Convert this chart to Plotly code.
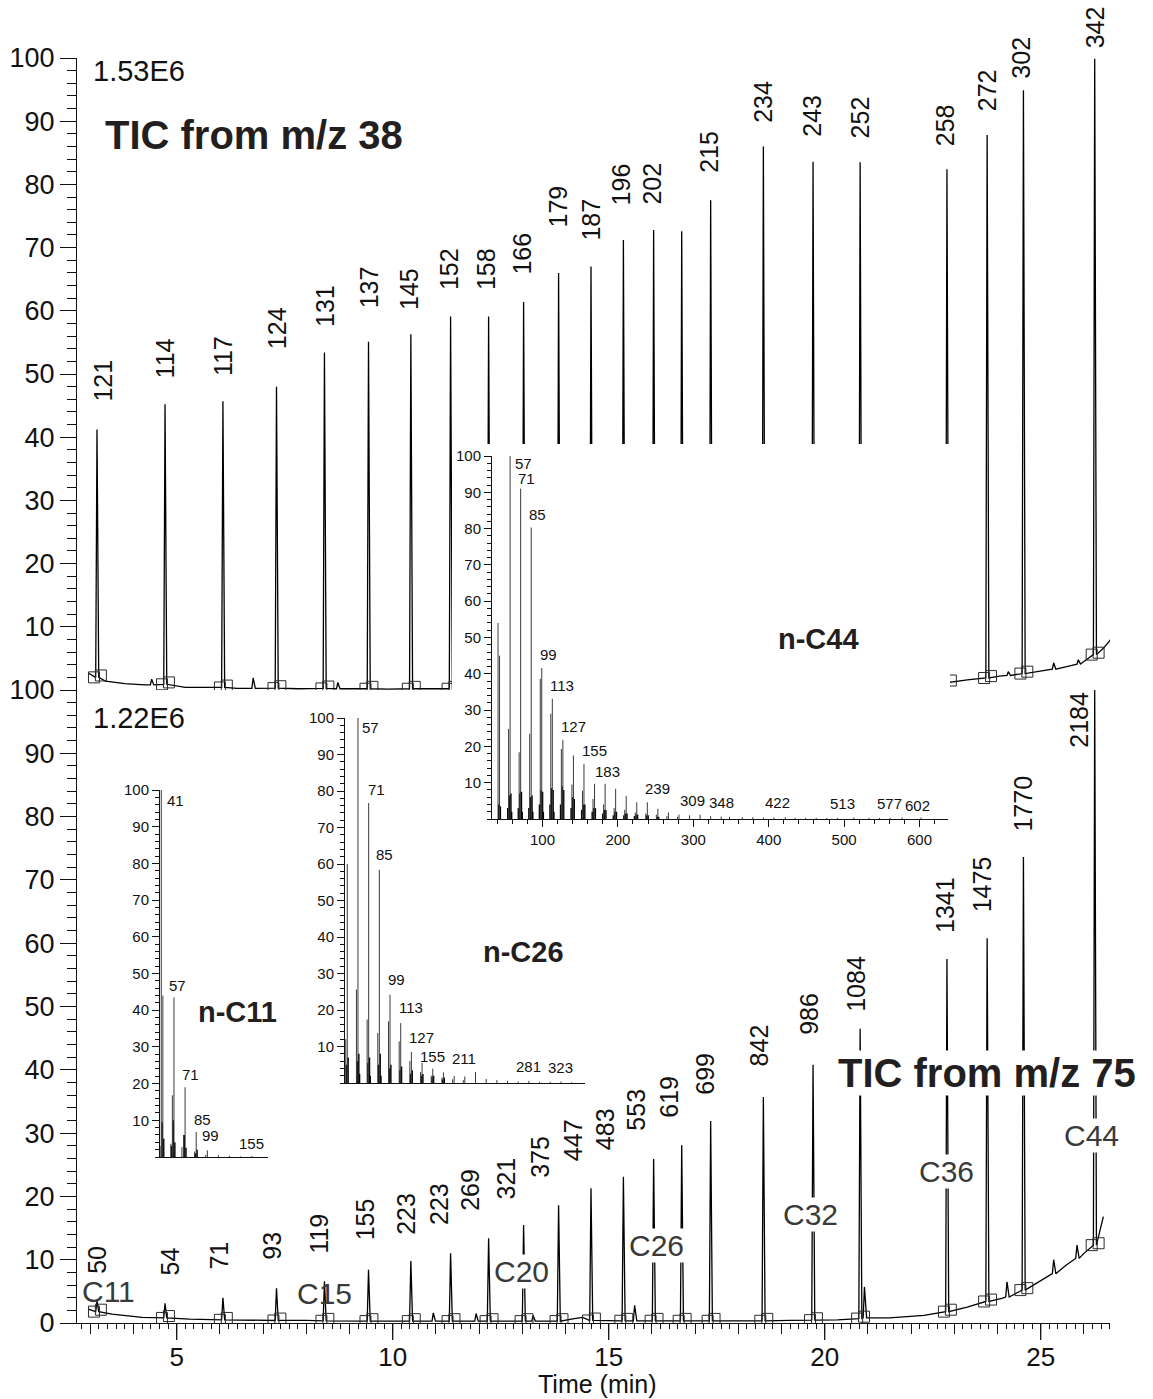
import plotly.graph_objects as go

W, H = 1153, 1399
FONT = "Liberation Sans, Arial, Helvetica, sans-serif"
INK = "#111111"

# ---------------- n-alkane peaks (retention time, min) ----------------
peak_time = [3.155, 4.73, 6.07, 7.31, 8.42, 9.44, 10.42, 11.34, 12.22, 13.03, 13.84,
             14.59, 15.34, 16.04, 16.69, 17.36, 18.58, 19.73, 20.82, 22.83, 23.76,
             24.60, 26.25]

# upper trace: TIC from m/z 38 (% of 1.53E6)
top_height = [41.2, 45.2, 45.7, 48.0, 53.4, 55.1, 56.3, 59.1, 59.1, 61.4, 66.0,
              67.0, 71.2, 72.8, 72.6, 77.5, 86.0, 83.6, 83.5, 82.4, 87.8, 94.9, 99.9]
top_foot = [2.0, 0.9, 0.4, 0.3, 0.25, 0.2, 0.2, 0.2, 0.2, 0.2, 0.2, 0.2, 0.2, 0.2,
            0.25, 0.25, 0.3, 0.35, 0.45, 1.2, 1.9, 2.6, 5.6]
top_label = ["121", "114", "117", "124", "131", "137", "145", "152", "158", "166", "179",
             "187", "196", "202", "", "215", "234", "243", "252", "258", "272", "302", "342"]
top_base_time = [2.95, 3.35, 3.8, 4.25, 5.2, 6.4, 7.8, 9.9, 12.6, 15.8, 18.0, 20.3,
                 21.8, 22.4, 23.3, 24.05, 25.0, 25.6, 26.0, 26.45, 26.62]
top_base_level = [2.7, 1.4, 1.0, 0.8, 0.4, 0.25, 0.2, 0.15, 0.15, 0.2, 0.3, 0.4,
                  0.8, 1.1, 1.6, 2.2, 3.0, 3.7, 4.5, 6.6, 8.0]
top_minor_time = [4.42, 6.77, 8.73, 24.25, 25.3, 25.87]
top_minor_height = [1.7, 1.9, 1.2, 2.9, 4.3, 4.8]
top_minor_foot = [0.8, 0.25, 0.2, 2.3, 3.3, 4.1]

# lower trace: TIC from m/z 75 (% of 1.22E6)
bot_height = [3.5, 3.1, 4.0, 5.5, 6.6, 8.4, 9.8, 11.0, 13.4, 15.5, 18.6, 21.3, 23.1,
              25.9, 28.1, 31.9, 35.7, 40.8, 46.5, 57.5, 60.8, 73.6, 100.0]
bot_foot = [1.8, 0.8, 0.5, 0.4, 0.35, 0.3, 0.3, 0.3, 0.3, 0.3, 0.3, 0.4, 0.35, 0.35,
            0.35, 0.35, 0.35, 0.45, 0.7, 1.8, 3.4, 5.2, 12.3]
bot_label = ["50", "54", "71", "93", "119", "155", "223", "223", "269", "321", "375",
             "447", "483", "553", "619", "699", "842", "986", "1084", "1341", "1475",
             "1770", "2184"]
bot_base_time = [2.95, 3.5, 4.2, 5.3, 6.6, 8.0, 9.9, 11.8, 12.7, 13.5, 14.2, 14.4, 14.9,
                 16.4, 17.9, 19.2, 20.3, 21.5, 22.3, 23.3, 24.1, 25.1, 25.6, 26.0, 26.45]
bot_base_level = [2.2, 1.4, 0.9, 0.6, 0.45, 0.4, 0.3, 0.3, 0.3, 0.3, 0.7, 0.9, 0.4,
                  0.35, 0.35, 0.4, 0.5, 0.8, 1.2, 2.5, 3.9, 7.0, 9.2, 11.0, 16.8]
bot_minor_time = [10.94, 11.93, 13.25, 15.6, 20.92, 24.22, 25.3, 25.84]
bot_minor_height = [1.6, 1.5, 1.2, 2.8, 5.7, 6.5, 10.0, 12.3]
bot_minor_foot = [0.3, 0.3, 0.3, 0.35, 0.8, 4.1, 7.8, 10.2]

# alkane markers in the lower trace
carbon_text = ["C11", "C15", "C20", "C26", "C32", "C36", "C44"]
carbon_time = [3.41, 8.41, 12.97, 16.10, 19.66, 22.81, 26.17]
carbon_level = [4.9, 4.6, 8.2, 12.2, 17.2, 24.0, 29.7]

# ---------------- mass spectra (m/z, relative abundance) ----------------
c44_mz = [41, 43, 55, 57, 69, 71, 83, 85, 97, 99, 111, 113, 125, 127, 139, 141, 153, 155,
          167, 169, 181, 183, 195, 197, 209, 211, 223, 225, 237, 239, 251, 253, 265, 267,
          279, 281, 295, 309, 323, 337, 348, 365, 379, 393, 407, 422, 435, 449, 463, 477,
          491, 513, 533, 547, 561, 577, 602]
c44_int = [54, 45, 24.8, 100, 18.4, 91, 23.5, 80.3, 38.6, 41.6, 29, 33.1, 19.3, 21.8, 9.5,
           17.5, 7.8, 15.2, 5.5, 9.7, 4, 9.7, 3, 8.3, 2.5, 6.4, 1.8, 4.6, 1.5, 4.6, 1.2, 2.8,
           0.8, 1.8, 0.6, 1.2, 1.0, 1.2, 0.8, 0.7, 0.6, 0.5, 0.5, 0.4, 0.4, 0.5, 0.3, 0.3,
           0.3, 0.3, 0.3, 0.4, 0.3, 0.3, 0.3, 0.4, 0.4]
c44_minor_mz = [42, 44, 54, 56, 58, 59, 68, 70, 72, 73, 82, 84, 86, 87, 96, 98, 100, 101,
                110, 112, 114, 115, 124, 126, 128, 138, 140, 142, 152, 154, 156, 166, 168,
                170, 180, 182, 184, 194, 196, 198, 208, 210, 212, 222, 224, 226, 238, 240,
                252, 254]
c44_minor_int = [4, 3.5, 3, 6.5, 7, 2, 3, 7, 7.5, 2, 3, 6, 6.5, 2, 4, 8, 7.5, 2, 4, 8.5, 8,
                 2, 4, 9, 8, 3, 6, 5.5, 2.5, 4, 4, 2, 3, 3, 1.5, 2.5, 2.5, 1, 2, 2, 1, 1.5,
                 1.5, 0.8, 1.2, 1.2, 1, 1, 0.6, 0.6]
c44_labels = [57, 71, 85, 99, 113, 127, 155, 183, 239, 309, 348, 422, 513, 577, 602]

c26_mz = [41, 43, 55, 57, 69, 71, 83, 85, 97, 99, 111, 113, 125, 127, 139, 141, 153, 155,
          167, 169, 181, 183, 195, 197, 211, 225, 239, 253, 267, 281, 295, 309, 323, 337]
c26_int = [12, 60, 25.6, 100, 17.4, 76.7, 13.7, 58.4, 16.9, 24.2, 11.4, 16.4, 6, 8.5, 3,
           5.5, 2, 3.9, 1.5, 2.9, 1, 1.9, 0.8, 1.8, 3.0, 1.1, 0.8, 0.6, 0.4, 0.6, 0.3, 0.3,
           0.4, 0.2]
c26_minor_mz = [42, 44, 56, 58, 59, 70, 72, 73, 84, 86, 87, 98, 100, 112, 114, 126, 128,
                140, 142, 154, 156, 168, 170]
c26_minor_int = [5, 7, 6, 8, 2.5, 5.5, 7, 2, 5, 8, 2, 4, 5, 3.5, 4.5, 2.5, 3.5, 2, 2.5,
                 1.5, 2, 1, 1.5]
c26_labels = [57, 71, 85, 99, 113, 127, 155, 211, 281, 323]

c11_mz = [41, 43, 53, 55, 57, 67, 69, 71, 83, 85, 97, 99, 113, 127, 141, 155]
c11_int = [100, 44, 3.6, 16.8, 43.5, 2.7, 6, 19, 1.5, 6.8, 0.6, 1.8, 0.5, 0.3, 0.2, 0.3]
c11_minor_mz = [39, 42, 44, 54, 56, 58, 70, 72, 84, 86]
c11_minor_int = [3, 9.5, 5, 3, 10, 4, 6, 2.5, 1, 2]
c11_labels = [41, 57, 71, 85, 99, 155]


# ---------------- helpers ----------------
def dom_x(left, right):
    return [left / W, right / W]


def dom_y(top, bottom):
    return [1 - bottom / H, 1 - top / H]


def chromatogram(times, heights, feet, base_t, base_v, minor_t, minor_h, minor_f):
    pts = list(zip(base_t, base_v))
    for t, h, f in zip(times, heights, feet):
        pts += [(t - 0.03, f), (t, h), (t + 0.04, f)]
    for t, h, f in zip(minor_t, minor_h, minor_f):
        pts += [(t - 0.03, f), (t, h), (t + 0.05, f)]
    pts.sort()
    return [p[0] for p in pts], [p[1] for p in pts]


def box_marks(times, feet):
    xs, ys = [], []
    for t, f in zip(times, feet):
        xs += [t - 0.07, t + 0.09]
        ys += [f, f + 0.3]
    return xs, ys


def sticks(mz, inten):
    xs, ys = [], []
    for m, v in zip(mz, inten):
        xs += [m, m, None]
        ys += [0, v, None]
    return xs, ys


fig = go.Figure()

# ---------------- chromatograms ----------------
for ax_y, args, feet in [
    ("y2", (peak_time, top_height, top_foot, top_base_time, top_base_level,
            top_minor_time, top_minor_height, top_minor_foot), top_foot),
    ("y", (peak_time, bot_height, bot_foot, bot_base_time, bot_base_level,
           bot_minor_time, bot_minor_height, bot_minor_foot), bot_foot),
]:
    tx, ty = chromatogram(*args)
    fig.add_trace(go.Scatter(x=tx, y=ty, xaxis="x", yaxis=ax_y, mode="lines",
                             line=dict(color="#000000", width=1.3), hoverinfo="skip"))
    bx, by = box_marks(peak_time, feet)
    fig.add_trace(go.Scatter(x=bx, y=by, xaxis="x", yaxis=ax_y, mode="markers",
                             marker=dict(symbol="square-open", size=11,
                                         color="#2a2a2a", line=dict(width=1)),
                             hoverinfo="skip"))

# ---------------- inset spectra ----------------
# n-C26 inset (x2, y3)
for mz, it, col, lw in [(c26_minor_mz, c26_minor_int, "#000000", 1.6),
                        (c26_mz, c26_int, "#3a3a3a", 1)]:
    sx, sy = sticks(mz, it)
    fig.add_trace(go.Scatter(x=sx, y=sy, xaxis="x2", yaxis="y3", mode="lines",
                             line=dict(color=col, width=lw), hoverinfo="skip"))

# opaque panel behind the n-C44 inset (x3, y4)
fig.add_trace(go.Scatter(x=[0.5], y=[0.5], xaxis="x3", yaxis="y4", mode="markers",
                         marker=dict(opacity=0), hoverinfo="skip"))

# n-C44 inset (x4, y5)
for mz, it, col, lw in [(c44_minor_mz, c44_minor_int, "#000000", 1.6),
                        (c44_mz, c44_int, "#3a3a3a", 1)]:
    sx, sy = sticks(mz, it)
    fig.add_trace(go.Scatter(x=sx, y=sy, xaxis="x4", yaxis="y5", mode="lines",
                             line=dict(color=col, width=lw), hoverinfo="skip"))

# n-C11 inset (x5, y6)
for mz, it, col, lw in [(c11_minor_mz, c11_minor_int, "#000000", 1.6),
                        (c11_mz, c11_int, "#3a3a3a", 1)]:
    sx, sy = sticks(mz, it)
    fig.add_trace(go.Scatter(x=sx, y=sy, xaxis="x5", yaxis="y6", mode="lines",
                             line=dict(color=col, width=lw), hoverinfo="skip"))

# ---------------- annotations ----------------
ann = []
lab_font = dict(family=FONT, size=25, color=INK)

top_dx = [6, 0, 0, 0, 0, 0, -2, -1, -2, -2, -1, 0, -2, -2, 0, -1, 0, -1, 0, -2, 0, -2, 0]
top_gap = [26, 24, 23, 35, 24, 31, 22, 24, 24, 25, 43, 24, 33, 23, 0, 25, 22, 23, 22, 21,
           22, 10, 8]
for t, h, lab, dx, gap in zip(peak_time, top_height, top_label, top_dx, top_gap):
    if not lab:
        continue
    ann.append(dict(x=t, y=h, xref="x", yref="y2", text=lab, showarrow=False,
                    textangle=-90, xanchor="center", yanchor="bottom",
                    xshift=dx, yshift=gap, font=lab_font))

bot_dx = [0, 5, -4, -4, -5, -4, -5, -11, -18, -18, -18, -18, -19, -18, -13, -6, -4, -4,
          -4, -2, -5, 0, 0]
bot_gap = [25, 26, 26, 26, 26, 27, 24, 26, 25, 23, 25, 25, 25, 26, 25, 24, 29, 28, 15,
           24, 24, 24, 0]
for t, h, lab, dx, gap in zip(peak_time, bot_height, bot_label, bot_dx, bot_gap):
    if h >= 100:
        # tallest peak: label sits beside the line, under the panel top
        ann.append(dict(x=t, y=h, xref="x", yref="y", text=lab, showarrow=False,
                        textangle=-90, xanchor="right", yanchor="top",
                        xshift=dx, font=lab_font))
    else:
        ann.append(dict(x=t, y=h, xref="x", yref="y", text=lab, showarrow=False,
                        textangle=-90, xanchor="center", yanchor="bottom",
                        xshift=dx, yshift=gap, font=lab_font))

for txt, t, lv in zip(carbon_text, carbon_time, carbon_level):
    opaque = txt not in ("C11", "C15")
    ann.append(dict(x=t, y=lv, xref="x", yref="y", text=txt, showarrow=False,
                    xanchor="center", yanchor="middle",
                    bgcolor="white" if opaque else "rgba(0,0,0,0)", borderpad=0,
                    font=dict(family=FONT, size=30, color="#3a3a3a")))


def paper_text(px, py, text, size, anchor="left", bold=False, bg=None, color=INK):
    d = dict(x=px / W, y=1 - py / H, xref="paper", yref="paper",
             text=f"<b>{text}</b>" if bold else text, showarrow=False,
             xanchor=anchor, yanchor="middle",
             font=dict(family=FONT, size=size, color=color))
    if bg:
        d.update(bgcolor=bg, borderpad=0)
    return d


ann += [
    paper_text(91, 71, "1.53E6", 29),
    paper_text(91, 718, "1.22E6", 29),
    paper_text(103, 135, "TIC from m/z 38", 40, bold=True, color="#231f20"),
    paper_text(987, 1073, "TIC from m/z 75", 40, anchor="center", bold=True,
               bg="white", color="#231f20"),
    paper_text(818, 639, "n-C44", 29, anchor="center", bold=True, color="#231f20"),
    paper_text(523, 952, "n-C26", 29, anchor="center", bold=True, color="#231f20"),
    paper_text(237, 1012, "n-C11", 29, anchor="center", bold=True, color="#231f20"),
    paper_text(597, 1384, "Time (min)", 25, anchor="center"),
]

spec_font = dict(family=FONT, size=15, color=INK)


def spectrum_labels(mz_list, inten_list, labels, xref, yref, shifts):
    lookup = dict(zip(mz_list, inten_list))
    out = []
    for m in labels:
        v = lookup[m]
        dx, gap, anchor = shifts.get(m, (-4, 3, "left"))
        if v >= 99:
            out.append(dict(x=m, y=v, xref=xref, yref=yref, text=str(m), showarrow=False,
                            xanchor="left", yanchor="top", xshift=dx, yshift=gap,
                            font=spec_font))
        else:
            out.append(dict(x=m, y=v, xref=xref, yref=yref, text=str(m), showarrow=False,
                            xanchor=anchor, yanchor="bottom", xshift=dx, yshift=gap,
                            font=spec_font))
    return out


ann += spectrum_labels(c44_mz, c44_int, c44_labels, "x4", "y5",
                       {57: (3, 3, "left"), 71: (-5, 0, "left"), 183: (-12, 2, "left"),
                        309: (-8, 4, "center"), 348: (-8, 4, "center"),
                        422: (-8, 4, "center"), 513: (-11, 4, "center"),
                        577: (-13, 4, "center"), 602: (-4, 2, "center")})
ann += spectrum_labels(c26_mz, c26_int, c26_labels, "x2", "y3",
                       {57: (2, 1, "left"), 71: (-3, 3, "left"), 85: (-5, 5, "left"),
                        99: (-4, 5, "left"), 113: (-4, 5, "left"), 127: (-4, 4, "left"),
                        155: (0, 2, "center"), 211: (-11, 3, "center"),
                        281: (0, 4, "center"), 323: (0, 4, "center")})
ann += spectrum_labels(c11_mz, c11_int, c11_labels, "x5", "y6",
                       {41: (4, 0, "left"), 57: (-7, 1, "left"), 71: (-5, 2, "left"),
                        85: (-4, 2, "left"), 99: (-7, 4, "left"), 155: (0, 2, "center")})

# longer ticks at the labelled minutes
shapes = [dict(type="line", xref="x", yref="paper", x0=v, x1=v,
               y0=1 - 1323 / H, y1=1 - 1340 / H, line=dict(color=INK, width=1.3))
          for v in (5, 10, 15, 20, 25)]

# ---------------- axes ----------------
tick_main = dict(family=FONT, size=27, color=INK)
tick_x = dict(family=FONT, size=26, color=INK)
tick_small = dict(family=FONT, size=15, color=INK)


def main_y(domain, vals):
    return dict(domain=domain, range=[0, 100], anchor="x", tickmode="array",
                tickvals=vals, ticks="outside", ticklen=16, tickwidth=1.2, tickcolor=INK,
                minor=dict(dtick=2, tick0=0, ticks="outside", ticklen=9, tickwidth=1,
                           tickcolor=INK),
                showline=True, linecolor=INK, linewidth=1.3, showgrid=False,
                zeroline=False, tickfont=tick_main, fixedrange=True, automargin=False)


def inset_y(domain, anchor):
    return dict(domain=domain, range=[0, 100], anchor=anchor, tickmode="array",
                tickvals=list(range(10, 101, 10)), ticks="outside", ticklen=7,
                tickwidth=1, tickcolor=INK,
                minor=dict(dtick=2, tick0=0, ticks="outside", ticklen=4, tickwidth=1,
                           tickcolor=INK),
                showline=True, linecolor=INK, linewidth=1, showgrid=False,
                zeroline=False, tickfont=tick_small, fixedrange=True, automargin=False)


hidden = dict(showline=False, showticklabels=False, ticks="", showgrid=False,
              zeroline=False, fixedrange=True, automargin=False)

fig.update_layout(
    width=W, height=H, margin=dict(l=0, r=0, t=0, b=0, autoexpand=False),
    paper_bgcolor="white", plot_bgcolor="white", showlegend=False,
    font=dict(family=FONT, color=INK),
    xaxis=dict(domain=dom_x(77, 1110), range=[2.692, 26.604], anchor="y",
               tickmode="linear", tick0=0, dtick=1, ticklabelstep=5,
               ticks="outside", ticklen=10, tickwidth=1.2, tickcolor=INK,
               minor=dict(dtick=0.2, tick0=0, ticks="outside", ticklen=5, tickwidth=1,
                          tickcolor=INK),
               showline=True, linecolor=INK, linewidth=1.3, showgrid=False,
               zeroline=False, tickfont=tick_x, ticklabelstandoff=1, fixedrange=True,
               automargin=False),
    yaxis=main_y(dom_y(690, 1323), list(range(0, 101, 10))),
    yaxis2=main_y(dom_y(58, 690), list(range(10, 101, 10))),
    # n-C26
    xaxis2=dict(domain=dom_x(345, 585), range=[40, 354.5], anchor="y3", showline=True,
                linecolor=INK, linewidth=1, ticks="", showticklabels=False,
                showgrid=False, zeroline=False, fixedrange=True, automargin=False),
    yaxis3=inset_y(dom_y(718, 1083), "x2"),
    # white panel under the n-C44 inset
    xaxis3=dict(domain=dom_x(452, 950), range=[0, 1], anchor="y4", **hidden),
    yaxis4=dict(domain=dom_y(444, 852), range=[0, 1], anchor="x3", **hidden),
    # n-C44
    xaxis4=dict(domain=dom_x(492, 948), range=[33, 637.8], anchor="y5", showline=True,
                linecolor=INK, linewidth=1, tickmode="array",
                tickvals=[100, 200, 300, 400, 500, 600], ticks="outside", ticklen=7,
                tickwidth=1, tickcolor=INK,
                minor=dict(dtick=20, tick0=0, ticks="outside", ticklen=4, tickwidth=1,
                           tickcolor=INK),
                showgrid=False, zeroline=False, tickfont=tick_small, fixedrange=True,
                automargin=False),
    yaxis5=inset_y(dom_y(456, 819), "x4"),
    # n-C11
    xaxis5=dict(domain=dom_x(160, 268), range=[39.4, 175.4], anchor="y6", showline=True,
                linecolor=INK, linewidth=1, ticks="", showticklabels=False,
                showgrid=False, zeroline=False, fixedrange=True, automargin=False),
    yaxis6=inset_y(dom_y(790, 1157), "x5"),
    annotations=ann,
    shapes=shapes,
)

fig.write_html("out.html")
